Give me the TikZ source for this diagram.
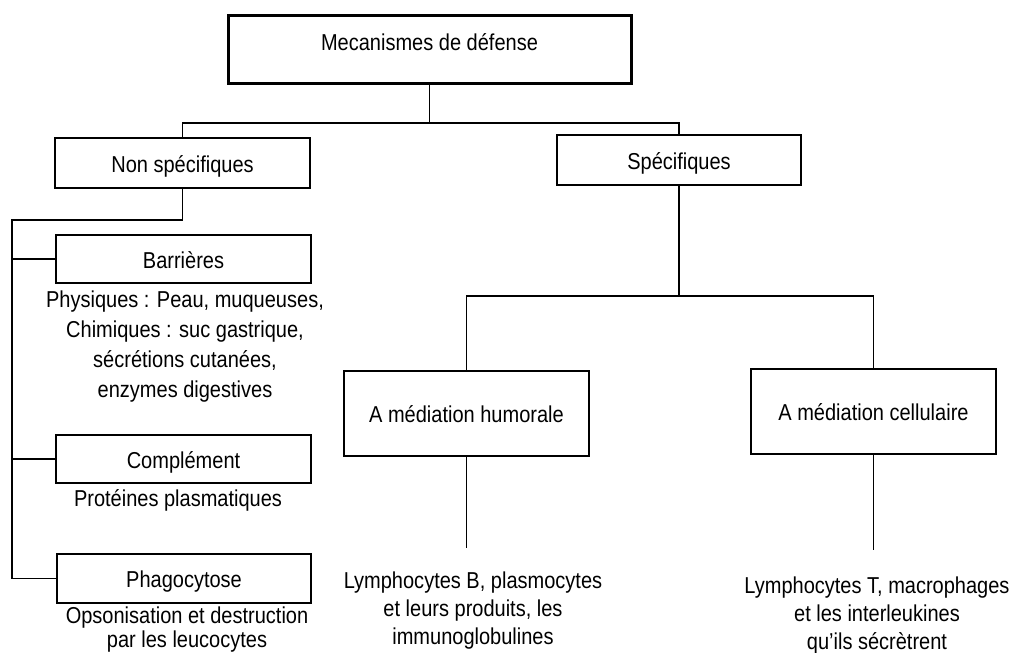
\documentclass[tikz,border=0pt]{standalone}
\usepackage{fontspec}
\setmainfont{Liberation Sans}[FakeStretch=0.87]
\usepackage{tikz}

\begin{document}
\begin{tikzpicture}
	[x=1pt,y=-1pt,line width=1.2pt,font=\fontsize{23}{28}\selectfont,
	every node/.style={inner sep=0pt},
	box/.style={rectangle,draw=black,line width=1.4pt,text height=18pt,text depth=0pt},
	topbox/.style={box,line width=3pt,minimum width=403pt,minimum height=68pt,text height=10pt,text depth=8pt},
	note/.style={anchor=north,align=center}]
	\useasboundingbox (0,0) rectangle (1013,653);
	\node[topbox] (mec) at (429.5,49) {Mecanismes de défense};
	\node[box,minimum width=255pt,minimum height=50pt] (nonspec) at (182.5,163) {Non spécifiques};
	\node[box,minimum width=244pt,minimum height=50pt] (spec) at (679,160) {Spécifiques};
	\node[box,minimum width=255pt,minimum height=48pt] (barr) at (183.5,259) {Barrières};
	\node[box,minimum width=255pt,minimum height=48pt] (compl) at (183.5,459) {Complément};
	\node[box,minimum width=254pt,minimum height=49pt] (phago) at (184,578.5) {Phagocytose};
	\node[box,minimum width=245pt,minimum height=85pt] (humo) at (466.5,413.5) {A médiation humorale};
	\node[box,minimum width=245pt,minimum height=85pt] (cell) at (873.5,411.5) {A médiation cellulaire};
	\node[note,font=\fontsize{23}{30}\selectfont] (barrtxt) at (185,290) {Physiques : Peau, muqueuses,\\Chimiques : suc gastrique,\\sécrétions cutanées,\\enzymes digestives};
	\node[note] (compltxt) at (178,489) {Protéines plasmatiques};
	\node[note,font=\fontsize{23}{24}\selectfont] (phagotxt) at (187,606) {Opsonisation et destruction\\par les leucocytes};
	\node[note] (lymb) at (473,571) {Lymphocytes B, plasmocytes\\et leurs produits, les\\immunoglobulines};
	\node[note] (lymt) at (877,576) {Lymphocytes T, macrophages\\et les interleukines\\qu’ils sécrètrent};
	\coordinate (split1) at (429.5,123);
	\coordinate (rail) at (12,220);
	\coordinate (split2) at (679,296);
	\coordinate (humoend) at (466.5,548);
	\coordinate (cellend) at (873.5,550);
	
	\draw (nonspec.north) |- (split1) -| (spec.north);
	\draw (nonspec.south) |- (rail) |- (phago.west);
	\draw (humo.north) |- (split2) -| (cell.north);
	\foreach \n in {barr,compl}
	\draw (rail |- \n.west) -- (\n.west);
	\foreach \from/\to in {mec/split1,spec/split2,humo/humoend,cell/cellend}
	\draw (\from) -- (\to);
	\end{tikzpicture}
\end{document}
